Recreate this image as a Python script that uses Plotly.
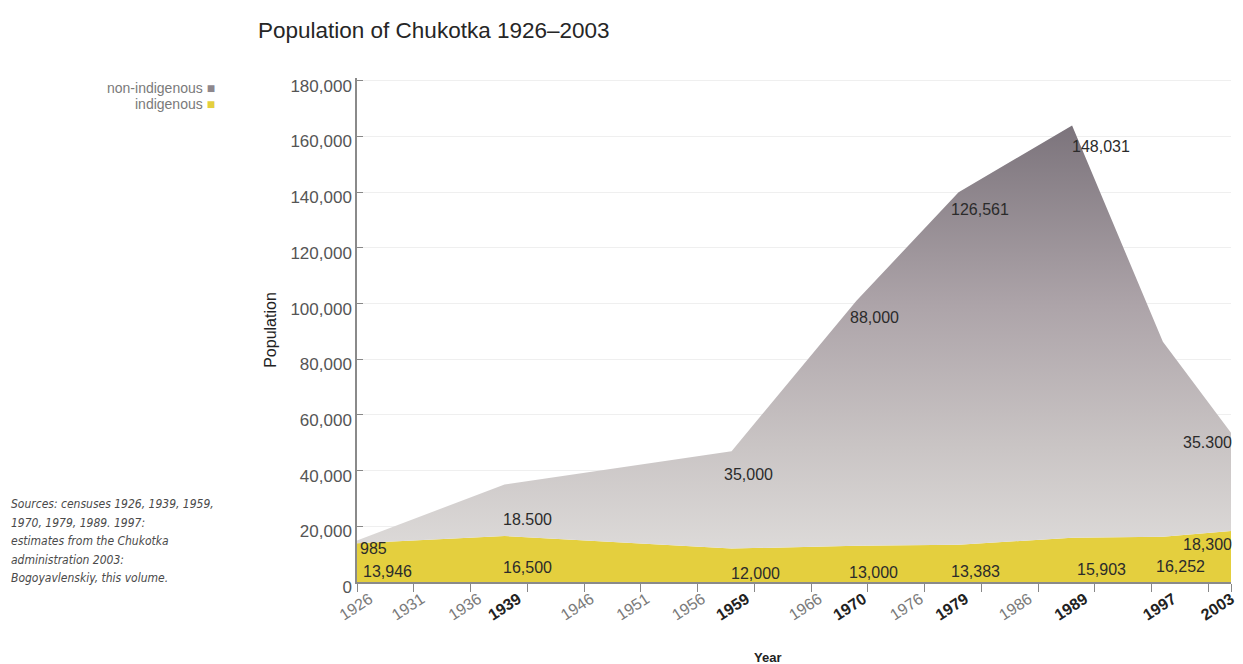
import plotly.graph_objects as go

# ---------------- data ----------------
years = [1926, 1939, 1959, 1970, 1979, 1989, 1997, 2003]
indigenous = [13946, 16500, 12000, 13000, 13383, 15903, 16252, 18300]
non_indigenous = [985, 18500, 35000, 88000, 126561, 148031, 70000, 35300]

indig_labels = ["13,946", "16,500", "12,000", "13,000", "13,383", "15,903", "16,252", "18,300"]
nonindig_labels = ["985", "18.500", "35,000", "88,000", "126,561", "148,031", "", "35.300"]

# tick marks (5-year grid) and where the year labels sit, as drawn in the original
tick_marks = [1926, 1931, 1936, 1941, 1946, 1951, 1956, 1961, 1966, 1971, 1976,
              1981, 1986, 1991, 1996, 2001, 2003]
label_pos = [1927.1, 1931.7, 1936.7, 1940.2, 1946.6, 1951.5, 1956.4, 1960.3,
             1966.7, 1970.6, 1975.6, 1979.6, 1985.2, 1990.1, 1997.9, 2003]
tick_labels = ["1926", "1931", "1936", "1939", "1946", "1951", "1956", "1959",
               "1966", "1970", "1976", "1979", "1986", "1989", "1997", "2003"]
census_labels = ["1939", "1959", "1970", "1979", "1989", "1997", "2003"]
y_ticks = [0, 20000, 40000, 60000, 80000, 100000, 120000, 140000, 160000, 180000]

source_lines = ["Sources: censuses 1926, 1939, 1959,",
                "1970, 1979, 1989. 1997:",
                "estimates from the Chukotka",
                "administration 2003:",
                "Bogoyavlenskiy, this volume."]

# label offsets in pixels (style, not data)
non_dx = [1, 23, 17, 18, 21, 29, 0, 3]
non_dy = [8, 35, 23, 17, 17, 21, 0, 10]
ind_dx = [4, 23, 24, 17, 17, 29, 18, 3]
ind_dy = [28, 31, 25, 27, 27, 32, 30, 13]

totals = [a + b for a, b in zip(indigenous, non_indigenous)]

YELLOW = "#e4cf3e"
FONT = "Liberation Sans, Arial, sans-serif"

W, H = 1243, 664
L, T, PW, PH = 357, 78, 880, 504   # plot area in page pixels

fig = go.Figure()
fig.add_trace(go.Scatter(
    x=years, y=indigenous, mode="lines", line=dict(width=0, color=YELLOW),
    fill="tozeroy", fillcolor=YELLOW, name="indigenous", hoverinfo="skip"))
fig.add_trace(go.Scatter(
    x=years, y=totals, mode="lines", line=dict(width=0, color="#a09aa0"),
    fill="tonexty",
    fillgradient=dict(type="vertical", start=0, stop=165000,
                      colorscale=[[0, "#e3e1df"], [0.3, "#c9c4c4"],
                                  [0.6, "#ada4a9"], [1, "#7b737b"]]),
    name="non-indigenous", hoverinfo="skip"))

annotations = []
label_font = dict(family=FONT, size=16, color="#2b2b2b")
for i, yr in enumerate(years):
    if i == 0:
        xa = "left"
    elif i == len(years) - 1:
        xa = "right"
    else:
        xa = "center"
    if nonindig_labels[i]:
        annotations.append(dict(x=yr, y=totals[i], xref="x", yref="y",
                                text=nonindig_labels[i], showarrow=False,
                                xanchor=xa, yanchor="middle",
                                xshift=non_dx[i], yshift=-non_dy[i], font=label_font))
    annotations.append(dict(x=yr, y=indigenous[i], xref="x", yref="y",
                            text=indig_labels[i], showarrow=False,
                            xanchor=xa, yanchor="middle",
                            xshift=ind_dx[i], yshift=-ind_dy[i], font=label_font))


def px_x(p):
    return (p - L) / PW


def px_y(p):
    return (T + PH - p) / PH


annotations.append(dict(x=px_x(216), y=px_y(88), xref="paper", yref="paper",
                        text="non-indigenous <span style='color:#8e878d'>■</span>",
                        showarrow=False, xanchor="right", yanchor="middle",
                        font=dict(family=FONT, size=14, color="#7a7a7a")))
annotations.append(dict(x=px_x(216), y=px_y(104), xref="paper", yref="paper",
                        text="indigenous <span style='color:%s'>■</span>" % YELLOW,
                        showarrow=False, xanchor="right", yanchor="middle",
                        font=dict(family=FONT, size=14, color="#7a7a7a")))

for k, line in enumerate(source_lines):
    annotations.append(dict(x=px_x(7), y=px_y(504 + 18.6 * k), xref="paper", yref="paper",
                            text="<i>%s</i>" % line, showarrow=False,
                            xanchor="left", yanchor="middle",
                            font=dict(family="Liberation Sans Narrow, DejaVu Sans Condensed, Arial Narrow, sans-serif",
                                      size=12, color="#4a4a4a")))

annotations.append(dict(x=px_x(770), y=px_y(657), xref="paper", yref="paper",
                        text="<b>Year</b>", showarrow=False, xanchor="center", yanchor="middle",
                        font=dict(family=FONT, size=13, color="#222222")))

tick_text = [("<b><span style='color:#222222'>%s</span></b>" % t) if t in census_labels else t
             for t in tick_labels]

fig.update_layout(
    width=W, height=H,
    margin=dict(l=L, r=W - L - PW, t=T, b=H - T - PH),
    paper_bgcolor="white", plot_bgcolor="white",
    showlegend=False,
    title=dict(text="Population of Chukotka 1926–2003", xref="container", yref="container",
               x=258 / W, xanchor="left", y=1 - 30 / H, yanchor="middle",
               font=dict(family=FONT, size=22.5, color="#262626")),
    annotations=annotations,
    xaxis=dict(range=[1926, 2003], tickmode="array", tickvals=label_pos, ticktext=tick_text,
               tickangle=-33, ticks="", showline=True, linecolor="#8a8a8a", linewidth=1.5,
               showgrid=False, zeroline=False, ticklabeloverflow="allow",
               minor=dict(tickmode="array", tickvals=tick_marks, ticks="outside", ticklen=8,
                          tickcolor="#888888", showgrid=False),
               tickfont=dict(family=FONT, size=16, color="#7a7a7a")),
    yaxis=dict(range=[0, 181000], tickmode="array", tickvals=y_ticks,
               tickformat=",d", ticks="inside", ticklen=6, tickcolor="#888888",
               showline=True, linecolor="#8a8a8a", linewidth=1.5,
               showgrid=True, gridcolor="#efefef", gridwidth=1, zeroline=False,
               ticklabelshift=5,
               tickfont=dict(family=FONT, size=17, color="#555555"),
               title=dict(text="Population", font=dict(family=FONT, size=16, color="#222222"),
                          standoff=10)),
)

# remove the default page margin so the figure fills the window exactly
fig.write_html("out.html", config={"displayModeBar": False},
               post_script="document.body.style.margin='0';document.body.style.overflow='hidden';")
